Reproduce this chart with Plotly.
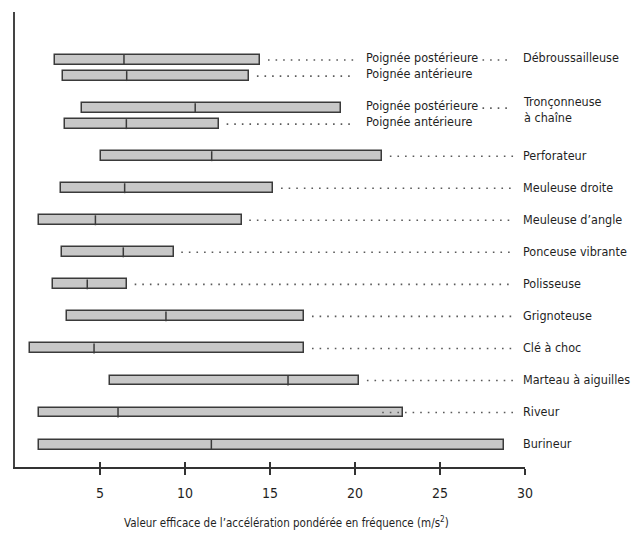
import plotly.graph_objects as go

# Tools, listed top to bottom; two tools are measured at two handles each
tools = ["Débroussailleuse", "Tronçonneuse<br>à chaîne", "Perforateur", "Meuleuse droite",
         "Meuleuse d’angle", "Ponceuse vibrante", "Polisseuse", "Grignoteuse",
         "Clé à choc", "Marteau à aiguilles", "Riveur", "Burineur"]
handles = {"Débroussailleuse": ["Poignée postérieure", "Poignée antérieure"],
           "Tronçonneuse<br>à chaîne": ["Poignée postérieure", "Poignée antérieure"]}

# Range of measured values (m/s²) per row, top to bottom
row_min = [2.37, 2.82, 3.92, 2.94, 5.04, 2.69, 1.43, 2.76, 2.22, 3.08, 0.90, 5.57, 1.39, 1.39]
row_med = [6.41, 6.57, 10.60, 6.55, 11.57, 6.45, 4.73, 6.37, 4.25, 8.88, 4.65, 16.06, 6.06, 11.55]
row_max = [14.43, 13.78, 19.20, 12.00, 21.60, 15.20, 13.33, 9.33, 6.59, 17.02, 17.02, 20.25, 22.80, 28.76]

tick_vals = [5, 10, 15, 20, 25, 30]
x_title = "Valeur efficace de l’accélération pondérée en fréquence (m/s<sup>2</sup>)"

FONT = "DejaVu Sans Condensed, DejaVu Sans, sans-serif"
TXT = "#1f1f1f"
EDGE = "#3a3a3a"
DOT = "#5a5a5a"
BAR_H = 0.31
TOOL_X = 29.75      # left edge of tool names
HANDLE_X = 20.5     # left edge of handle names
LABEL_SIZE = 12.5

# vertical layout: walk from the bottom, pairs of handles sit half a row apart
rows = []           # (tool, handle, y)
pos = 0.0
for tool in reversed(tools):
    hs = handles.get(tool)
    if hs:
        rows.append((tool, hs[1], pos))
        rows.append((tool, hs[0], pos + 0.5))
        pos += 1.5
    else:
        rows.append((tool, None, pos))
        pos += 1.0
rows.reverse()
ypos = [r[2] for r in rows]

fig = go.Figure()

fig.add_trace(go.Bar(
    orientation="h", y=ypos, base=row_min,
    x=[hi - lo for lo, hi in zip(row_min, row_max)],
    width=BAR_H,
    marker=dict(color="#c8c8c8", line=dict(color=EDGE, width=1.5)),
    hoverinfo="skip", showlegend=False,
))

# median marks
mx, my = [], []
for m, y in zip(row_med, ypos):
    mx += [m, m, None]
    my += [y - BAR_H / 2, y + BAR_H / 2, None]
fig.add_trace(go.Scatter(x=mx, y=my, mode="lines", xaxis="x2",
                         line=dict(color=EDGE, width=1.5),
                         hoverinfo="skip", showlegend=False))

# dotted leaders from each bar to its label
lx, ly = [], []
def leader(x0, x1, y):
    if x1 - x0 > 0.6:
        lx.extend([x0, x1, None])
        ly.extend([y, y, None])

annotations = []
done_tools = set()
for (tool, handle, y), hi in zip(rows, row_max):
    start = hi + 0.45
    if tool == "Riveur":
        start = hi - 1.2
    if handle:
        leader(start, HANDLE_X - 0.55, y)
        annotations.append(dict(x=HANDLE_X, y=y, text=handle, xanchor="left",
                                yshift=3, showarrow=False))
        if handle == "Poignée postérieure":
            leader(27.5, 29.0, y)
        if tool not in done_tools:
            done_tools.add(tool)
            ty = y if "<br>" not in tool else y - 0.13
            annotations.append(dict(x=TOOL_X, y=ty, text=tool, xanchor="left",
                                    yshift=3, showarrow=False, align="left"))
    else:
        leader(start, TOOL_X - 0.45, y)
        annotations.append(dict(x=TOOL_X, y=y, text=tool, xanchor="left",
                                yshift=1, showarrow=False))

fig.add_trace(go.Scatter(x=lx, y=ly, mode="lines", xaxis="x2",
                         line=dict(color=DOT, width=1.6, dash="1.6px,6px"),
                         hoverinfo="skip", showlegend=False))

for a in annotations:
    a.update(xref="x", yref="y", font=dict(family=FONT, size=LABEL_SIZE, color=TXT))

# axis title, set slightly right of the plot centre
annotations.append(dict(text=x_title, xref="paper", yref="paper", x=0.533, y=-0.123,
                        xanchor="center", yanchor="middle", showarrow=False,
                        font=dict(family=FONT, size=11.5, color=TXT)))

fig.update_layout(
    width=633, height=533,
    margin=dict(l=15, r=108, t=12, b=66),
    paper_bgcolor="white", plot_bgcolor="white",
    font=dict(family=FONT, size=LABEL_SIZE, color=TXT),
    bargap=0,
    annotations=annotations,
    xaxis=dict(range=[0, 30], tickvals=tick_vals, ticks="outside", ticklen=6,
               tickwidth=1.5, tickcolor="#333", showline=True, linecolor="#333",
               linewidth=1.5, showgrid=False, zeroline=False, ticklabelstandoff=6,
               tickfont=dict(family=FONT, size=14, color=TXT)),
    xaxis2=dict(overlaying="x", matches="x", anchor="y", tickvals=tick_vals,
                ticks="inside", ticklen=5, tickwidth=1.5, tickcolor="#333",
                showticklabels=False, showline=False, showgrid=False, zeroline=False),
    yaxis=dict(range=[-0.7, 13.5], showline=True, linecolor="#444", linewidth=2,
               showticklabels=False, ticks="", showgrid=False, zeroline=False),
)

fig.write_html("out.html")
